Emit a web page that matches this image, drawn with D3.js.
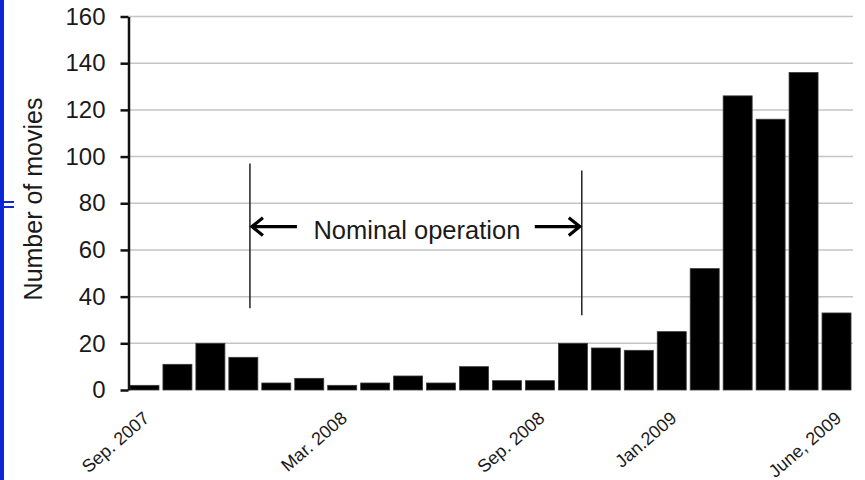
<!DOCTYPE html>
<html>
<head>
<meta charset="utf-8">
<script src="https://cdn.jsdelivr.net/npm/d3@7"></script>
<style>
  body { margin: 0; background: #fff; }
  svg { display: block; }
  text { font-family: "Liberation Sans", Arial, Helvetica, sans-serif; fill: #1a1a1a; }
</style>
</head>
<body>
<svg id="chart" width="865" height="480"></svg>
<script>
// Monthly number of recorded movies, Sep. 2007 – June 2009
const months = [
  "2007-09", "2007-10", "2007-11", "2007-12",
  "2008-01", "2008-02", "2008-03", "2008-04", "2008-05", "2008-06",
  "2008-07", "2008-08", "2008-09", "2008-10", "2008-11", "2008-12",
  "2009-01", "2009-02", "2009-03", "2009-04", "2009-05", "2009-06"
];
const movieCounts = [2, 11, 20, 14, 3, 5, 2, 3, 6, 3, 10, 4, 4, 20, 18, 17, 25, 52, 126, 116, 136, 33];

const tickMonths = ["2007-09", "2008-03", "2008-09", "2009-01", "2009-06"];
const tickLabels = ["Sep. 2007", "Mar. 2008", "Sep. 2008", "Jan.2009", "June, 2009"];
const yTicks = [0, 20, 40, 60, 80, 100, 120, 140, 160];

// "Nominal operation" period, in month-index units along the x axis
const nominalSpan = [3.7, 13.77];
const nominalLineTop = [97, 94];
const nominalLineBottom = [35, 32];
const nominalArrowLevel = 70;
const nominalText = "Nominal operation";

const svg = d3.select("#chart");
const W = 865, H = 480;

svg.append("rect").attr("width", W).attr("height", H).attr("fill", "#fff");

// Slide frame accent on the left edge
svg.append("rect").attr("x", 0).attr("y", 0).attr("width", 4).attr("height", H).attr("fill", "#0a26d6");
svg.append("rect").attr("x", 0).attr("y", 201).attr("width", 14).attr("height", 2).attr("fill", "#0a26d6");
svg.append("rect").attr("x", 0).attr("y", 206).attr("width", 14).attr("height", 2).attr("fill", "#0a26d6");

const x0 = 128, x1 = 853;
const x = d3.scaleBand().domain(months).range([x0, x1]).paddingInner(0.12).paddingOuter(0.06);
const y = d3.scaleLinear().domain([0, 160]).range([390, 16.5]);
// month-index position (0 = left end of the category axis)
const xi = d3.scaleLinear().domain([0, months.length]).range([x0, x1]);

// Gridlines
svg.append("g")
  .selectAll("line")
  .data(yTicks.filter(d => d > 0))
  .join("line")
  .attr("x1", x0 + 1).attr("x2", x1)
  .attr("y1", d => y(d)).attr("y2", d => y(d))
  .attr("stroke", "#c4c4c4").attr("stroke-width", 1.5);

// Bars
svg.append("g")
  .selectAll("rect")
  .data(months.map((m, i) => ({ m, v: movieCounts[i] })))
  .join("rect")
  .attr("x", d => x(d.m))
  .attr("width", x.bandwidth())
  .attr("y", d => y(d.v))
  .attr("height", d => y(0) - y(d.v))
  .attr("fill", "#000")
  .attr("stroke", "#3a3a3a")
  .attr("stroke-width", 0.8);

// Y axis
const yAxis = svg.append("g")
  .attr("transform", `translate(${x0 + 0.5},0)`)
  .call(d3.axisLeft(y).tickValues(yTicks).tickSize(8).tickSizeOuter(0).tickPadding(15));
yAxis.select(".domain").attr("stroke", "#111").attr("stroke-width", 2.5);
yAxis.selectAll(".tick line").attr("stroke", "#111").attr("stroke-width", 2.5);
yAxis.selectAll(".tick text")
  .style("font-family", "'Liberation Sans', Arial, sans-serif")
  .style("font-size", "24px")
  .attr("fill", "#1a1a1a");

// Y axis title
svg.append("text")
  .attr("transform", "translate(33,199) rotate(-90)")
  .attr("text-anchor", "middle")
  .attr("dominant-baseline", "central")
  .style("font-size", "25px")
  .text("Number of movies");

// X tick labels (rotated)
svg.append("g")
  .selectAll("text")
  .data(tickMonths.map((m, i) => ({ m, label: tickLabels[i] })))
  .join("text")
  .attr("transform", d => `translate(${x(d.m) + x.bandwidth() / 2 + 6},420) rotate(-41)`)
  .attr("text-anchor", "end")
  .style("font-size", "18px")
  .attr("fill", "#222")
  .text(d => d.label);

// Nominal operation annotation
const ann = svg.append("g").attr("stroke", "#222").attr("fill", "none");
nominalSpan.forEach((u, i) => {
  ann.append("line")
    .attr("x1", xi(u)).attr("x2", xi(u))
    .attr("y1", y(nominalLineTop[i])).attr("y2", y(nominalLineBottom[i]))
    .attr("stroke-width", 1.5);
});
const ay = y(nominalArrowLevel);
const left = xi(nominalSpan[0]) + 2, right = xi(nominalSpan[1]) - 2;
const arrowLen = 45, head = 11;
ann.append("path")
  .attr("d", `M${left + arrowLen},${ay}H${left} M${left + head},${ay - head * 0.8}L${left},${ay}L${left + head},${ay + head * 0.8}`)
  .attr("stroke", "#000").attr("stroke-width", 3.2).attr("stroke-linejoin", "miter");
ann.append("path")
  .attr("d", `M${right - arrowLen},${ay}H${right} M${right - head},${ay - head * 0.8}L${right},${ay}L${right - head},${ay + head * 0.8}`)
  .attr("stroke", "#000").attr("stroke-width", 3.2).attr("stroke-linejoin", "miter");
svg.append("text")
  .attr("x", (xi(nominalSpan[0]) + xi(nominalSpan[1])) / 2 + 1)
  .attr("y", ay + 12)
  .attr("text-anchor", "middle")
  .style("font-size", "25.5px")
  .attr("fill", "#262626")
  .text(nominalText);
</script>
</body>
</html>
